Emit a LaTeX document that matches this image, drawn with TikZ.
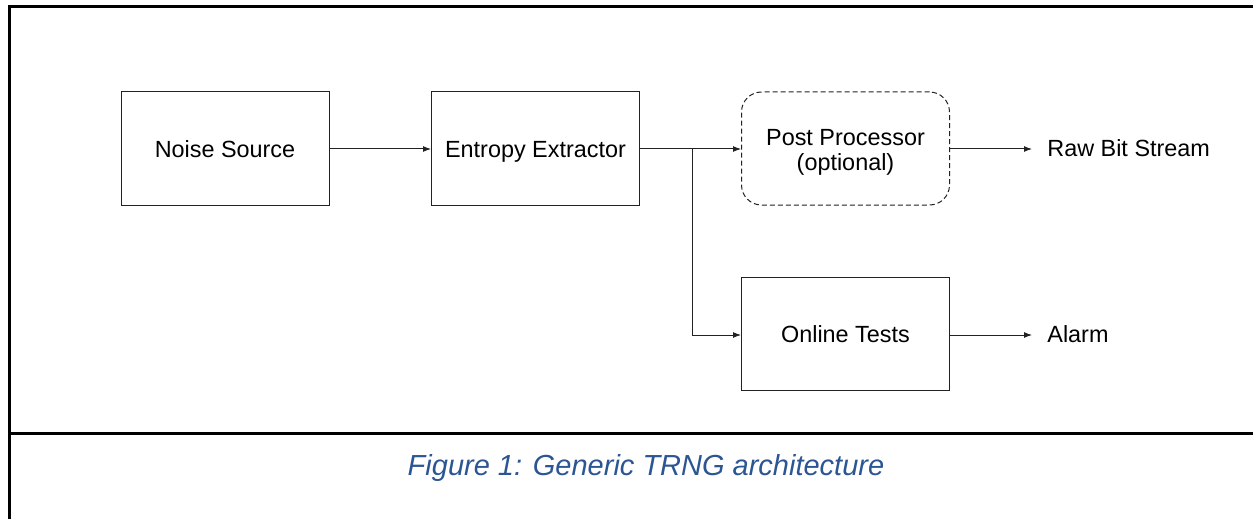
\documentclass[tikz,border=0pt]{standalone}
\usepackage{fontspec}
\setmainfont{Liberation Sans}
\usepackage{tikz}
\usetikzlibrary{arrows.meta,positioning}
\usepackage{xcolor}
\definecolor{frame}{HTML}{000000}
\definecolor{boxline}{HTML}{222222}
\definecolor{captionblue}{HTML}{2B5593}
\tikzset{
    flow/.style={
        -{Latex[length=4pt,width=3pt]},
        line width=0.5pt,
        color=boxline
    },
    block/.style={
        draw=boxline,
        line width=0.5pt,
        minimum width=104pt,
        minimum height=56.5pt,
        font=\fontsize{11.7}{12.5}\selectfont,
        align=center,
        inner sep=0pt,
        text height=0.85em,
        text depth=0pt
    },
    optblock/.style={
        block,
        text height=21.5pt,
        text depth=0pt,
        dashed,
        dash pattern=on 2.5pt off 1.5pt,
        rounded corners=10pt
    },
    outlabel/.style={
        font=\fontsize{11.7}{14}\selectfont,
        anchor=west,
        inner xsep=7.5pt,
        inner ysep=0pt,
        text height=0.72em,
        text depth=0pt
    },
    figurelabel/.style={
        font=\fontsize{14.5}{17}\selectfont\itshape,
        color=captionblue
    }
}
\begin{document}
\begin{tikzpicture}[x=0.5pt,y=-0.5pt]

    \useasboundingbox (0,0) rectangle (1253,519);

    % Cadre
    \draw[frame,line width=1.6pt]
        (9.5,519) -- (9.5,6.2) -- (1253,6.2);
    \draw[frame,line width=1.6pt]
        (9.5,433.5) -- (1253,433.5);

    % Blocs
    \node[block] (noise) at (225,148.5) {Noise Source};
    \node[block] (extract) at (535.5,148.5) {Entropy Extractor};
    \node[optblock] (post) at (845.5,148.5) {Post Processor\\(optional)};
    \node[block] (tests) at (845.5,334) {Online Tests};

    % Sorties
    \node[outlabel] (raw) at (1032,149) {Raw Bit Stream};
    \node[outlabel] (alarm) at (1032,335) {Alarm};

    % Branchement
    \coordinate (split) at (692,149);

    % Liaisons
    \draw[flow] (noise.east |- 0,149) -- (extract.west |- 0,149);
    \draw[flow] (extract.east |- 0,149) -- (post.west |- 0,149);
    \draw[flow] (split) |- (tests.west |- 0,335);
    \draw[flow] (post.east |- 0,149) -- (raw.west);
    \draw[flow] (tests.east |- 0,335) -- (alarm.west);

    % Legende
    \node[figurelabel] (caption) at (646,468) {Figure 1: Generic TRNG architecture};

\end{tikzpicture}
\end{document}
